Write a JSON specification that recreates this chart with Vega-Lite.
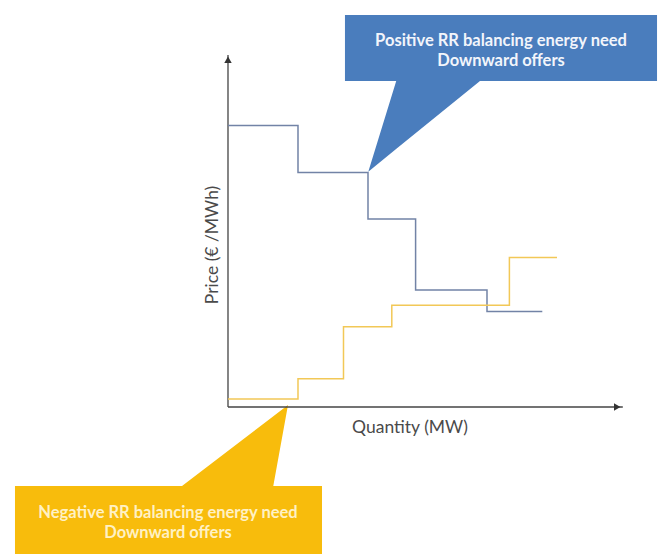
{
  "$schema": "https://vega.github.io/schema/vega-lite/v6.json",
  "width": 664,
  "height": 554,
  "autosize": {"type": "fit", "contains": "padding"},
  "padding": 0,
  "background": "white",
  "config": {"view": {"stroke": null}},
  "datasets": {
    "blue": [
      {"q": 0, "p": 80.4}, {"q": 10, "p": 67.0}, {"q": 20, "p": 53.7},
      {"q": 26.8, "p": 33.4}, {"q": 37, "p": 27.3}, {"q": 44.9, "p": 27.3}
    ],
    "orange": [
      {"q": 0, "p": 2.3}, {"q": 10, "p": 8.1}, {"q": 16.5, "p": 22.9},
      {"q": 23.4, "p": 29.1}, {"q": 40.2, "p": 42.7}, {"q": 47, "p": 42.7}
    ],
    "axes": [
      {"q": 0, "p": 0, "q2": 0, "p2": 100.6},
      {"q": 0, "p": 0, "q2": 56.4, "p2": 0}
    ],
    "arrows": [
      {"q": 0, "p": 99.2, "shape": "triangle-up"},
      {"q": 55.6, "p": 0, "shape": "triangle-right"}
    ],
    "boxes": [
      {"q": 16.71, "q2": 61.29, "p": 93.14, "p2": 112, "c": "blue"},
      {"q": -30.43, "q2": 13.43, "p": -42, "p2": -22.57, "c": "orange"}
    ],
    "bluePointer": [
      {"q": 20.04, "p": 67.23, "p2": 67.23},
      {"q": 24.1, "p": 73.83, "p2": 93.6},
      {"q": 36, "p": 93.14, "p2": 93.6}
    ],
    "orangePointer": [
      {"q": -6.57, "p": -23.0, "p2": -22.57},
      {"q": 6.43, "p": -23.0, "p2": -2.71},
      {"q": 8.57, "p": 0.57, "p2": 0.57}
    ],
    "labels": [
      {"q": 39, "p": 104.6, "t": "Positive RR balancing energy need", "c": "blue"},
      {"q": 39, "p": 98.9, "t": "Downward offers", "c": "blue"},
      {"q": -8.57, "p": -30.3, "t": "Negative RR balancing energy need", "c": "orange"},
      {"q": -8.57, "p": -36, "t": "Downward offers", "c": "orange"}
    ]
  },
  "encoding": {
    "x": {"field": "q", "type": "quantitative", "scale": {"domain": [-32.571, 62.286], "nice": false, "zero": false}, "axis": null},
    "y": {"field": "p", "type": "quantitative", "scale": {"domain": [-42, 116.286], "nice": false, "zero": false}, "axis": null}
  },
  "resolve": {"scale": {"color": "independent"}},
  "layer": [
    {
      "data": {"name": "bluePointer"},
      "mark": {"type": "area", "color": "#4a7dbd", "opacity": 1},
      "encoding": {"y2": {"field": "p2"}}
    },
    {
      "data": {"name": "orangePointer"},
      "mark": {"type": "area", "color": "#f8bc0c", "opacity": 1},
      "encoding": {"y2": {"field": "p2"}}
    },
    {
      "data": {"name": "boxes"},
      "mark": {"type": "rect"},
      "encoding": {
        "x2": {"field": "q2"},
        "y2": {"field": "p2"},
        "color": {"field": "c", "type": "nominal", "scale": {"domain": ["blue", "orange"], "range": ["#4a7dbd", "#f8bc0c"]}, "legend": null}
      }
    },
    {
      "data": {"name": "axes"},
      "mark": {"type": "rule", "color": "#444444", "strokeWidth": 1.3},
      "encoding": {"x2": {"field": "q2"}, "y2": {"field": "p2"}}
    },
    {
      "data": {"name": "arrows"},
      "mark": {"type": "point", "filled": true, "color": "#333333", "size": 55, "opacity": 1},
      "encoding": {"shape": {"field": "shape", "type": "nominal", "scale": null}}
    },
    {
      "data": {"name": "blue"},
      "mark": {"type": "line", "interpolate": "step-after", "color": "#7283a6", "strokeWidth": 1.5}
    },
    {
      "data": {"name": "orange"},
      "mark": {"type": "line", "interpolate": "step-after", "color": "#f2c857", "strokeWidth": 1.5}
    },
    {
      "data": {"name": "labels"},
      "mark": {"type": "text", "font": "Lato", "fontWeight": "bold", "fontSize": 16.5, "align": "center", "baseline": "middle"},
      "encoding": {
        "text": {"field": "t"},
        "color": {"field": "c", "type": "nominal", "scale": {"domain": ["blue", "orange"], "range": ["#f2f5fb", "#fff1c4"]}, "legend": null}
      }
    },
    {
      "data": {"values": [{"q": 26, "p": -6, "t": "Quantity (MW)"}]},
      "mark": {"type": "text", "font": "Lato", "fontSize": 17.5, "color": "#4a4a4a", "align": "center", "baseline": "middle"},
      "encoding": {"text": {"field": "t"}}
    },
    {
      "data": {"values": [{"q": -2.14, "p": 46.3, "t": "Price (€ /MWh)"}]},
      "mark": {"type": "text", "font": "Lato", "fontSize": 17.5, "color": "#4a4a4a", "align": "center", "baseline": "middle", "angle": 270},
      "encoding": {"text": {"field": "t"}}
    }
  ]
}
